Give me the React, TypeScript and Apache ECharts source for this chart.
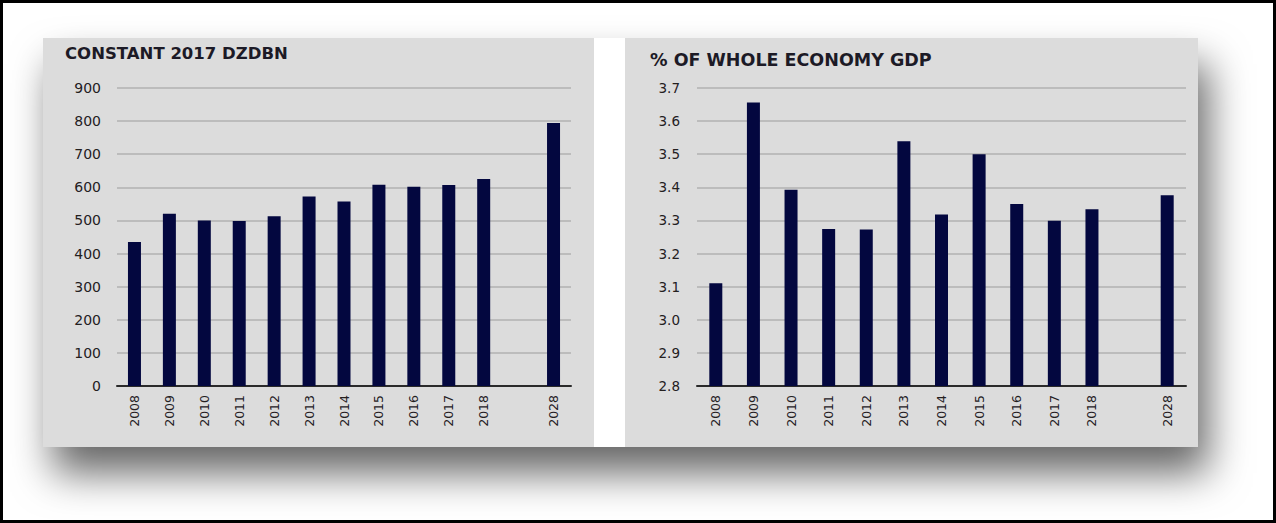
import React, { useEffect, useRef } from "react";
import * as echarts from "echarts";

const categories = ["2008", "2009", "2010", "2011", "2012", "2013", "2014", "2015", "2016", "2017", "2018", "", "2028"];
const constantValues: (number | null)[] = [435, 520, 500, 498, 513, 572, 557, 608, 602, 607, 625, null, 794];
const gdpShareValues: (number | null)[] = [3.11, 3.656, 3.393, 3.274, 3.273, 3.539, 3.318, 3.5, 3.35, 3.299, 3.334, null, 3.376];
const leftTitle = "CONSTANT 2017 DZDBN";
const rightTitle = "% OF WHOLE ECONOMY GDP";

const FONT = "DejaVu Sans";
const TEXT = "#24201f";
const BAR = "#03073f";

export default function App() {
  const ref = useRef<HTMLDivElement>(null);
  useEffect(() => {
    document.body.style.margin = "0";
    const chart = echarts.init(ref.current!, null, { renderer: "svg" });
    const xAxisCommon = {
      type: "category" as const,
      data: categories,
      axisTick: { show: false },
      axisLine: { lineStyle: { color: "#2a2a2a", width: 2 } },
      axisLabel: { rotate: 90, interval: 0, margin: 9, fontFamily: FONT, fontSize: 12.5, color: TEXT },
    };
    const yAxisCommon = {
      type: "value" as const,
      axisLine: { show: false },
      axisTick: { show: false },
      splitLine: { lineStyle: { color: "#b2b2b2", width: 1.5 } },
    };
    chart.setOption({
      animation: false,
      graphic: [
        { type: "rect", z: -10, shape: { x: 0, y: 0, width: 1276, height: 523 }, style: { fill: "#000" } },
        { type: "rect", z: -9, shape: { x: 3, y: 3, width: 1270, height: 517 }, style: { fill: "#fff" } },
        {
          type: "rect", z: -8,
          shape: { x: 43, y: 38, width: 1155, height: 409 },
          style: { fill: "#dcdcdc", shadowBlur: 40, shadowOffsetX: 10, shadowOffsetY: 26, shadowColor: "rgba(0,0,0,0.6)" },
        },
        { type: "rect", z: -7, shape: { x: 594, y: 38, width: 31, height: 409 }, style: { fill: "#fff" } },
      ],
      title: [
        { text: leftTitle, left: 60, top: 40, textStyle: { fontFamily: FONT, fontSize: 16.5, fontWeight: "bold", color: "#1c1a26" } },
        { text: rightTitle, left: 645, top: 46, textStyle: { fontFamily: FONT, fontSize: 17.5, fontWeight: "bold", color: "#1c1a26" } },
      ],
      grid: [
        { left: 117, right: 1276 - 571, top: 88, bottom: 523 - 386 },
        { left: 697, right: 1276 - 1186, top: 88, bottom: 523 - 386 },
      ],
      xAxis: [
        { ...xAxisCommon, gridIndex: 0 },
        { ...xAxisCommon, gridIndex: 1 },
      ],
      yAxis: [
        {
          ...yAxisCommon, gridIndex: 0, min: 0, max: 900, interval: 100,
          axisLabel: { margin: 16, fontFamily: FONT, fontSize: 14, color: TEXT },
        },
        {
          ...yAxisCommon, gridIndex: 1, min: 2.8, max: 3.7, interval: 0.1,
          axisLabel: { margin: 17, fontFamily: FONT, fontSize: 13.5, color: TEXT, formatter: (v: number) => v.toFixed(1) },
        },
      ],
      series: [
        { type: "bar", xAxisIndex: 0, yAxisIndex: 0, data: constantValues, barWidth: 13, itemStyle: { color: BAR } },
        { type: "bar", xAxisIndex: 1, yAxisIndex: 1, data: gdpShareValues, barWidth: 13, itemStyle: { color: BAR } },
      ],
    });
    return () => chart.dispose();
  }, []);
  return <div ref={ref} style={{ position: "absolute", left: 0, top: 0, width: 1276, height: 523 }} />;
}
